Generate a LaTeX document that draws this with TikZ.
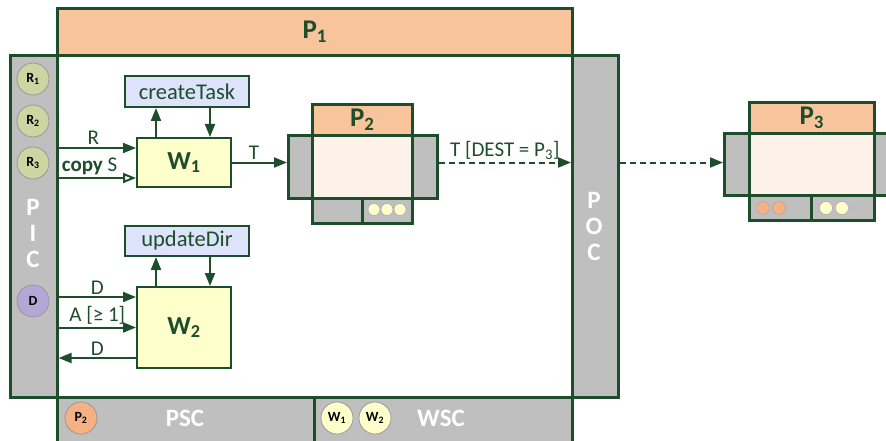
\documentclass[tikz,border=0pt]{standalone}
\usepackage{fontspec}
\setmainfont{Carlito}
\usepackage{xcolor}
\usepackage{tikz}
\usetikzlibrary{arrows.meta}
\definecolor{dkc}{HTML}{1E4D2B}
\definecolor{orc}{HTML}{F8C49B}
\definecolor{gryc}{HTML}{BFBFBF}
\definecolor{ylwc}{HTML}{FFFFCC}
\definecolor{lavc}{HTML}{DDE3FA}
\definecolor{crmc}{HTML}{FDF2E9}
\definecolor{olvc}{HTML}{CDD5A2}
\definecolor{purc}{HTML}{B4A7D6}
\definecolor{tokc}{HTML}{F4B183}
\tikzset{
  ar/.style={-{Triangle[length=13pt,width=10pt]},line width=2pt,dkc},
  oar/.style={-{Triangle[open,length=13pt,width=10pt,fill=white]},line width=2pt,dkc},
  dar/.style={ar,dash pattern=on 6pt off 4pt},
  frm/.style={draw=dkc,line width=2.6pt,anchor=north west,inner sep=0pt},
  pnl/.style={frm,fill=gryc},
  fn/.style={draw=dkc,line width=2pt,fill=lavc,minimum width=124,minimum height=31,inner sep=0pt,font=\fontsize{22.5}{24}\selectfont,text=dkc},
  wk/.style={draw=dkc,line width=2pt,fill=ylwc,minimum width=94,inner sep=0pt,font=\fontsize{26}{28}\selectfont\bfseries,text=dkc},
  tok/.style={circle,draw=gray!80,line width=0.8pt,minimum size=32,inner sep=0pt,font=\fontsize{14}{15}\selectfont\bfseries},
  dot/.style={circle,draw=gray!70,line width=0.5pt,fill=ylwc,minimum size=12,inner sep=0pt},
  lbl/.style={font=\fontsize{21}{23}\selectfont,text=dkc,inner sep=2pt},
  wlbl/.style={font=\fontsize{25}{28}\selectfont\bfseries,text=white,align=center}
}
\begin{document}
\begin{tikzpicture}[x=1pt,y=-1pt]
\useasboundingbox (0,0) rectangle (886,441);
\node[frm,fill=white,minimum width=515,minimum height=342] (body) at (56,54) {};
\node[frm,fill=orc,minimum width=515,minimum height=47,font=\fontsize{27}{30}\selectfont\bfseries,text=dkc] (hdr) at (56,7) {P\textsubscript{1}};
\node[pnl,minimum width=47,minimum height=342] (pic) at (9,54) {};
\node[pnl,minimum width=46,minimum height=342] (poc) at (571,54) {};
\node[pnl,minimum width=257,minimum height=60] (psc) at (56,396) {};
\node[pnl,minimum width=258,minimum height=60] (wsc) at (313,396) {};
\node[wlbl] (piclbl) at (33,233) {P\\[-2pt]I\\[-2pt]C};
\node[wlbl] (poclbl) at (594,226) {P\\[-2pt]O\\[-2pt]C};
\node[tok,fill=olvc] (r1) at (33,79) {R\textsubscript{1}};
\node[tok,fill=olvc] (r2) at (33,121) {R\textsubscript{2}};
\node[tok,fill=olvc] (r3) at (33,163) {R\textsubscript{3}};
\node[tok,fill=purc] (dtok) at (33,301) {D};
\node[tok,fill=tokc] (p2tok) at (81,418) {P\textsubscript{2}};
\node[tok,fill=ylwc] (w1tok) at (337,418) {W\textsubscript{1}};
\node[tok,fill=ylwc] (w2tok) at (375,418) {W\textsubscript{2}};
\node[wlbl] (psclbl) at (185,418) {PSC};
\node[wlbl] (wsclbl) at (441,418) {WSC};
\node[fn] (ct) at (187,91.5) {createTask};
\node[wk,minimum height=49] (w1) at (184,162.5) {W\textsubscript{1}};
\node[fn,minimum height=30] (ud) at (187,241) {updateDir};
\node[wk,minimum height=81] (w2) at (184,327.5) {W\textsubscript{2}};
\draw[ar] ([xshift=-28]w1.north) -- ([xshift=-28]w1.north |- ct.south);
\draw[ar] ([xshift=26]w1.north |- ct.south) -- ([xshift=26]w1.north);
\draw[ar] ([xshift=-28]w2.north) -- ([xshift=-28]w2.north |- ud.south);
\draw[ar] ([xshift=26]w2.north |- ud.south) -- ([xshift=26]w2.north);
\draw[ar] ([yshift=14.5]w1.west -| pic.east) -- node[lbl,above,pos=0.45] {R} ([yshift=14.5]w1.west);
\draw[oar] ([yshift=-15.5]w1.west -| pic.east) -- node[lbl,above,pos=0.4] {\textbf{copy} S} ([yshift=-15.5]w1.west);
\draw[ar] ([yshift=30.5]w2.west -| pic.east) -- node[lbl,above,pos=0.5] {D} ([yshift=30.5]w2.west);
\draw[ar] (w2.west -| pic.east) -- node[lbl,above,pos=0.5] {A [≥ 1]} (w2.west);
\draw[ar] ([yshift=-30.5]w2.west) -- node[lbl,above,pos=0.5] {D} ([yshift=-30.5]w2.west -| pic.east);
\node[frm,fill=orc,minimum width=100,minimum height=31,font=\fontsize{27}{30}\selectfont\bfseries,text=dkc] (p2h) at (311,103) {P\textsubscript{2}};
\node[frm,fill=crmc,minimum width=100,minimum height=63] (p2b) at (311,134) {};
\node[pnl,minimum width=24,minimum height=63] (p2l) at (287,134) {};
\node[pnl,minimum width=25,minimum height=63] (p2r) at (411,134) {};
\node[pnl,minimum width=50,minimum height=25] (p2s1) at (311,197) {};
\node[pnl,minimum width=50,minimum height=25] (p2s2) at (361,197) {};
\foreach \i/\xx in {1/374,2/387,3/400} \node[dot] (p2d\i) at (\xx,209.5) {};
\node[frm,fill=orc,minimum width=125,minimum height=31,font=\fontsize{27}{30}\selectfont\bfseries,text=dkc] (p3h) at (748,101) {P\textsubscript{3}};
\node[frm,fill=crmc,minimum width=125,minimum height=62] (p3b) at (748,132) {};
\node[pnl,minimum width=25,minimum height=62] (p3l) at (723,132) {};
\node[pnl,minimum width=25,minimum height=62] (p3r) at (873,132) {};
\node[pnl,minimum width=62,minimum height=25] (p3s1) at (748,194) {};
\node[pnl,minimum width=63,minimum height=25] (p3s2) at (810,194) {};
\foreach \i/\xx in {1/763,2/779} \node[dot,fill=tokc,minimum size=13] (p3o\i) at (\xx,208) {};
\foreach \i/\xx in {1/826,2/842} \node[dot,minimum size=13] (p3y\i) at (\xx,208) {};
\draw[ar] (w1.east) -- node[lbl,above,pos=0.4] {T} (w1 -| p2l.west);
\draw[dar] (w1 -| p2r.east) -- node[lbl,above] {T [DEST = P\textsubscript{3}]} (w1 -| poc.west);
\draw[dar] (w1 -| poc.east) -- (w1 -| p3l.west);
\end{tikzpicture}
\end{document}
